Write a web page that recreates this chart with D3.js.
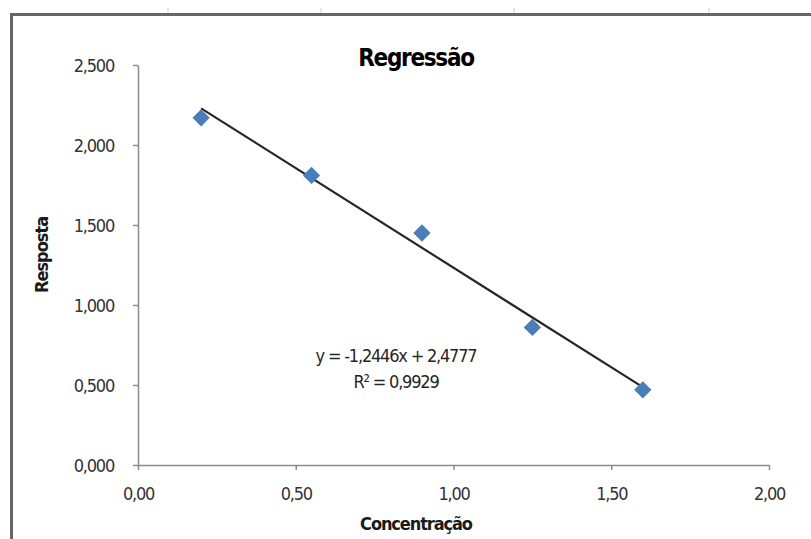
<!DOCTYPE html>
<html>
<head>
<meta charset="utf-8">
<script src="https://cdn.jsdelivr.net/npm/d3@7"></script>
<style>
  body { margin: 0; background: #fff; }
  svg { display: block; }
  text { font-family: "Liberation Sans Narrow", "DejaVu Sans Condensed", sans-serif; }
</style>
</head>
<body>
<svg id="chart"></svg>
<script>
// data
let concentracao = [0.20, 0.55, 0.90, 1.25, 1.60];
let resposta = [2.17, 1.81, 1.45, 0.86, 0.47];
let slope = -1.2446, intercept = 2.4777;
let eqLines = ["y = -1,2446x + 2,4777", "R² = 0,9929"];
let xTicks = [0, 0.5, 1, 1.5, 2];
let yTicks = [0, 0.5, 1, 1.5, 2, 2.5];
let sheetCols = [168, 321, 514, 709];

var width = 811, height = 539;
var margin = {top: 65, left: 138, right: 42, bottom: 74};

let svg = d3.select('#chart')
    .attr('width', width)
    .attr('height', height);

// spreadsheet frame behind the chart
svg.selectAll('.col')
    .data(sheetCols)
    .enter()
    .append('line')
    .attr('x1', d => d).attr('x2', d => d)
    .attr('y1', 8).attr('y2', 13)
    .attr('stroke', '#dcdcdc')
    .attr('stroke-width', 1.5);

svg.append('path')
    .attr('d', 'M11.5,' + height + 'V14.5H' + width)
    .attr('fill', 'none')
    .attr('stroke', '#666')
    .attr('stroke-width', 3);

var x = d3.scaleLinear().domain([0, 2]).range([margin.left, width - margin.right]);
var y = d3.scaleLinear().domain([0, 2.5]).range([height - margin.bottom, margin.top]);

var fmtX = v => d3.format('.2f')(v).replace('.', ',');
var fmtY = v => d3.format('.3f')(v).replace('.', ',');

let xAxis = svg.append('g')
    .attr('transform', 'translate(0,' + y(0) + ')')
    .call(d3.axisBottom(x).tickValues(xTicks).tickFormat(fmtX).tickSize(5).tickSizeOuter(0));

let yAxis = svg.append('g')
    .attr('transform', 'translate(' + x(0) + ',0)')
    .call(d3.axisLeft(y).tickValues(yTicks).tickFormat(fmtY).tickSize(5).tickSizeOuter(0));

[xAxis, yAxis].forEach(function(a) {
    a.select('.domain').attr('stroke', '#8c8c8c').attr('stroke-width', 1.5);
    a.selectAll('.tick line').attr('stroke', '#8c8c8c').attr('stroke-width', 1.5);
    a.selectAll('.tick text')
        .attr('fill', '#333')
        .style('font-size', '18px')
        .style('letter-spacing', '-1.2px')
        .style('font-family', '"Liberation Sans Narrow", "DejaVu Sans Condensed", sans-serif');
});
xAxis.selectAll('.tick text').attr('y', 22).attr('dy', '0.71em');
yAxis.selectAll('.tick text').attr('x', -24).attr('dy', '0.38em');

// trendline from the stated equation
var trend = [d3.min(concentracao), d3.max(concentracao)];
svg.append('line')
    .attr('x1', x(trend[0])).attr('y1', y(slope * trend[0] + intercept))
    .attr('x2', x(trend[1])).attr('y2', y(slope * trend[1] + intercept))
    .attr('stroke', '#262626')
    .attr('stroke-width', 2.2);

svg.selectAll('.pt')
    .data(concentracao)
    .enter()
    .append('path')
    .attr('class', 'pt')
    .attr('d', d3.symbol().type(d3.symbolDiamond2).size(190))
    .attr('transform', (d, i) => 'translate(' + x(d) + ',' + y(resposta[i]) + ')')
    .attr('fill', '#4a7ebb');

svg.append('text')
    .attr('x', 416).attr('y', 66)
    .attr('text-anchor', 'middle')
    .style('font-size', '24px')
    .style('letter-spacing', '-1.3px')
    .style('font-weight', 'bold')
    .attr('fill', '#000')
    .text('Regressão');

svg.selectAll('.eq')
    .data(eqLines)
    .enter()
    .append('text')
    .attr('x', 396)
    .attr('y', (d, i) => 362 + i * 26)
    .attr('text-anchor', 'middle')
    .style('font-size', '18px')
    .style('letter-spacing', '-1.2px')
    .attr('fill', '#262626')
    .text(d => d);

svg.append('text')
    .attr('x', 416).attr('y', 530)
    .attr('text-anchor', 'middle')
    .style('font-size', '18px')
    .style('letter-spacing', '-1.1px')
    .style('font-weight', 'bold')
    .attr('fill', '#1a1a1a')
    .text('Concentração');

svg.append('text')
    .attr('transform', 'translate(48,255) rotate(-90)')
    .attr('text-anchor', 'middle')
    .style('font-size', '18px')
    .style('letter-spacing', '-1px')
    .style('font-weight', 'bold')
    .attr('fill', '#1a1a1a')
    .text('Resposta');
</script>
</body>
</html>
